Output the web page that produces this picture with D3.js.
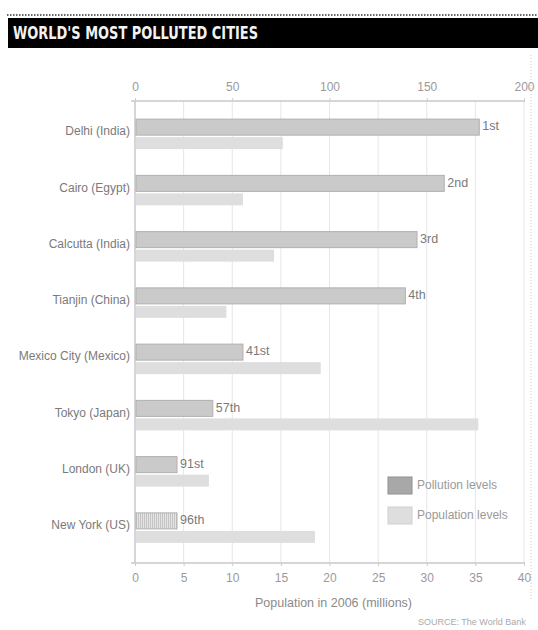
<!DOCTYPE html>
<html>

<head>
  <title>World's most polluted cities</title>
  <style>
    body { margin: 0; background: #fff; }
    text { font-family: "Liberation Sans", Arial, sans-serif; }
  </style>
</head>

<body>
  <svg id="svg"></svg>

  <script src="https://d3js.org/d3.v7.min.js"></script>
  <script>
    const cities = ["Delhi (India)", "Cairo (Egypt)", "Calcutta (India)", "Tianjin (China)",
      "Mexico City (Mexico)", "Tokyo (Japan)", "London (UK)", "New York (US)"];
    const pollution = [177, 159, 145, 139, 55.5, 40, 21.6, 21.6];
    const population = [15.2, 11.1, 14.3, 9.4, 19.1, 35.3, 7.6, 18.5];
    const ranks = ["1st", "2nd", "3rd", "4th", "41st", "57th", "91st", "96th"];
    const pollutionTicks = [0, 50, 100, 150, 200];
    const populationTicks = [0, 5, 10, 15, 20, 25, 30, 35, 40];

    let width = 538, height = 630;
    let plotLeft = 135, plotRight = 524, plotTop = 101, plotBottom = 563;

    let data = cities.map((c, i) => ({ city: c, pol: pollution[i], pop: population[i], rank: ranks[i] }));

    let svg = d3.select("#svg").attr("width", width).attr("height", height);

    // header
    svg.append("line")
      .attr("x1", 7).attr("x2", width).attr("y1", 15).attr("y2", 15)
      .attr("stroke", "#333").attr("stroke-width", 1.5).attr("stroke-dasharray", "1.5,1.5");
    svg.append("rect")
      .attr("x", 8).attr("y", 18).attr("width", width - 8).attr("height", 30)
      .attr("fill", "#000");
    svg.append("text")
      .attr("x", 13).attr("y", 39)
      .attr("textLength", 245).attr("lengthAdjust", "spacingAndGlyphs")
      .style("font-family", "'DejaVu Sans Condensed', 'DejaVu Sans', sans-serif")
      .style("font-weight", "bold").style("font-size", "17px")
      .attr("fill", "#f2f2f2")
      .text("WORLD'S MOST POLLUTED CITIES");

    // right dotted border
    svg.append("line")
      .attr("x1", 531).attr("x2", 531).attr("y1", 55).attr("y2", 600)
      .attr("stroke", "#ccc").attr("stroke-dasharray", "1,2");

    let xPol = d3.scaleLinear().domain([0, 200]).range([plotLeft, plotRight]);
    let xPop = d3.scaleLinear().domain([0, 40]).range([plotLeft, plotRight]);
    let y = d3.scaleBand().domain(cities).range([106, 556]);

    // gridlines
    svg.append("g").selectAll("line")
      .data(populationTicks.slice(1))
      .join("line")
      .attr("x1", d => xPop(d)).attr("x2", d => xPop(d))
      .attr("y1", plotTop).attr("y2", plotBottom)
      .attr("stroke", "#e6e6e6");

    // axes
    let axisTop = svg.append("g")
      .attr("transform", `translate(0, ${plotTop})`)
      .call(d3.axisTop(xPol).tickValues(pollutionTicks).tickSize(3).tickSizeOuter(0));
    let axisBottom = svg.append("g")
      .attr("transform", `translate(0, ${plotBottom})`)
      .call(d3.axisBottom(xPop).tickValues(populationTicks).tickSize(3).tickSizeOuter(0));

    [axisTop, axisBottom].forEach(a => {
      a.select(".domain").attr("stroke", "#c8c8c8").attr("stroke-width", 1.5)
        .attr("d", `M${plotLeft - 4},0H${plotRight + 1}`);
      a.selectAll(".tick line").attr("stroke", "#ccc");
      a.selectAll(".tick text").attr("fill", "#9a9a9a")
        .style("font-size", "12px").style("font-family", "'Liberation Sans', Arial, sans-serif");
    });
    axisTop.selectAll(".tick text").attr("dy", "-0.3em");
    axisBottom.selectAll(".tick text").attr("dy", "1.1em");

    // zero line
    svg.append("line")
      .attr("x1", plotLeft).attr("x2", plotLeft).attr("y1", plotTop).attr("y2", plotBottom)
      .attr("stroke", "#c8c8c8").attr("stroke-width", 1.5);

    let defs = svg.append("defs");
    let pat = defs.append("pattern")
      .attr("id", "stripes").attr("width", 2).attr("height", 4)
      .attr("patternUnits", "userSpaceOnUse");
    pat.append("rect").attr("width", 2).attr("height", 4).attr("fill", "#e4e4e4");
    pat.append("rect").attr("width", 1).attr("height", 4).attr("fill", "#c4c4c4");

    let rows = svg.append("g").selectAll("g")
      .data(data)
      .join("g")
      .attr("transform", d => `translate(0, ${y(d.city) + y.bandwidth() / 2})`);

    rows.append("rect")
      .attr("x", xPol(0) + 1).attr("y", -15)
      .attr("width", d => xPol(d.pol) - xPol(0) - 1).attr("height", 16)
      .attr("fill", (d, i) => i === data.length - 1 ? "url(#stripes)" : "#cacaca")
      .attr("stroke", "#b0b0b0").attr("stroke-width", 1);

    rows.append("rect")
      .attr("x", xPop(0) + 1).attr("y", 3)
      .attr("width", d => xPop(d.pop) - xPop(0) - 1).attr("height", 12)
      .attr("fill", "#dedede");

    rows.append("text")
      .attr("x", d => xPol(d.pol) + 3).attr("y", -7)
      .attr("dominant-baseline", "middle")
      .attr("fill", "#7a7a7a").style("font-size", "12.5px")
      .text(d => d.rank);

    rows.append("text")
      .attr("x", 130).attr("y", -2)
      .attr("text-anchor", "end").attr("dominant-baseline", "middle")
      .attr("fill", "#7a7a7a").style("font-size", "12px")
      .text(d => d.city);

    // legend
    let legend = svg.append("g").attr("transform", "translate(388, 477)");
    let items = [
      { label: "Pollution levels", fill: "#a8a8a8", stroke: "#909090" },
      { label: "Population levels", fill: "#dedede", stroke: "#d0d0d0" }
    ];
    let li = legend.selectAll("g").data(items).join("g")
      .attr("transform", (d, i) => `translate(0, ${i * 30})`);
    li.append("rect").attr("width", 24).attr("height", 17)
      .attr("fill", d => d.fill).attr("stroke", d => d.stroke);
    li.append("text").attr("x", 29).attr("y", 9)
      .attr("dominant-baseline", "middle")
      .attr("fill", "#9a9a9a").style("font-size", "12px")
      .text(d => d.label);

    svg.append("text")
      .attr("x", (plotLeft + plotRight) / 2 + 4).attr("y", 607)
      .attr("text-anchor", "middle")
      .attr("fill", "#8a8a8a").style("font-size", "12.5px")
      .text("Population in 2006 (millions)");

    svg.append("text")
      .attr("x", 418).attr("y", 625)
      .attr("fill", "#aaa").style("font-size", "9px")
      .text("SOURCE: The World Bank");
  </script>
</body>

</html>
